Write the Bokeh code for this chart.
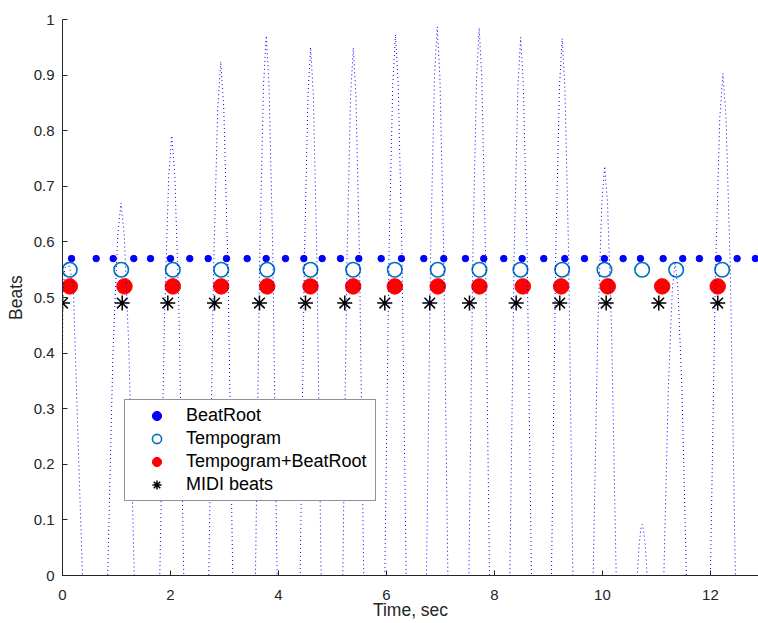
from bokeh.plotting import figure
from bokeh.models import Range1d, FixedTicker, NumeralTickFormatter, Legend, LegendItem
from bokeh.embed import file_html
from bokeh.resources import INLINE

# ---- data ----
# onset/beat-strength curve (time in s, value)
curve_t = [
    0.0, 0.005, 0.04, 0.09, 0.14, 0.20, 0.27, 0.37,
    0.837, 0.935, 1.021, 1.083, 1.145, 1.231, 1.329,
    1.802, 1.891, 1.968, 2.024, 2.080, 2.157, 2.246,
    2.709, 2.798, 2.875, 2.931, 2.987, 3.064, 3.153,
    3.574, 3.654, 3.724, 3.774, 3.824, 3.894, 3.974,
    4.402, 4.480, 4.547, 4.596, 4.645, 4.712, 4.790,
    5.191, 5.269, 5.336, 5.385, 5.434, 5.501, 5.579,
    5.969, 6.048, 6.117, 6.167, 6.217, 6.286, 6.365,
    6.741, 6.820, 6.889, 6.939, 6.989, 7.058, 7.137,
    7.526, 7.602, 7.669, 7.717, 7.765, 7.832, 7.908,
    8.285, 8.365, 8.435, 8.485, 8.535, 8.605, 8.685,
    9.056, 9.135, 9.204, 9.254, 9.304, 9.373, 9.452,
    9.828, 9.913, 9.988, 10.041, 10.094, 10.169, 10.254,
    10.642, 10.679, 10.712, 10.735, 10.758, 10.791, 10.828,
    11.137, 11.221, 11.294, 11.346, 11.398, 11.471, 11.555,
    12.000, 12.092, 12.173, 12.231, 12.289, 12.370, 12.462,
    12.89,
]
curve_y = [
    0.33, 0.50, 0.55, 0.565, 0.55, 0.52, 0.30, 0.0,
    0.0, 0.402, 0.610, 0.670, 0.610, 0.402, 0.0,
    0.0, 0.475, 0.720, 0.791, 0.720, 0.475, 0.0,
    0.0, 0.554, 0.841, 0.924, 0.841, 0.554, 0.0,
    0.0, 0.583, 0.884, 0.971, 0.884, 0.583, 0.0,
    0.0, 0.570, 0.865, 0.950, 0.865, 0.570, 0.0,
    0.0, 0.569, 0.864, 0.949, 0.864, 0.569, 0.0,
    0.0, 0.584, 0.885, 0.973, 0.885, 0.584, 0.0,
    0.0, 0.592, 0.898, 0.987, 0.898, 0.592, 0.0,
    0.0, 0.591, 0.896, 0.985, 0.896, 0.591, 0.0,
    0.0, 0.581, 0.881, 0.968, 0.881, 0.581, 0.0,
    0.0, 0.580, 0.879, 0.966, 0.879, 0.580, 0.0,
    0.0, 0.442, 0.670, 0.736, 0.670, 0.442, 0.0,
    0.0, 0.055, 0.084, 0.092, 0.084, 0.055, 0.0,
    0.0, 0.339, 0.514, 0.565, 0.514, 0.339, 0.0,
    0.0, 0.542, 0.822, 0.903, 0.822, 0.542, 0.0,
    0.0,
]

beatroot_t = [0.167, 0.624, 0.939, 1.320, 1.630, 2.000, 2.357, 2.698, 3.037,
              3.420, 3.772, 4.130, 4.469, 4.809, 5.148, 5.487, 5.902, 6.278,
              6.691, 7.061, 7.463, 7.802, 8.172, 8.513, 8.913, 9.302, 9.667,
              10.037, 10.383, 10.704, 11.124, 11.487, 11.796, 12.143, 12.494,
              12.833]
tempogram_t = [0.135, 1.087, 2.043, 2.939, 3.791, 4.593, 5.383, 6.154, 6.950,
               7.722, 8.481, 9.254, 10.037, 10.735, 11.365, 12.217]
combined_t = [0.135, 1.148, 2.043, 2.939, 3.791, 4.593, 5.383, 6.154, 6.950,
              7.722, 8.524, 9.235, 10.098, 11.106, 12.135]
midi_t = [0.0, 1.106, 1.950, 2.815, 3.648, 4.500, 5.228, 5.969, 6.802, 7.537,
          8.402, 9.209, 10.069, 11.043, 12.135]

beatroot_level = 0.57
tempogram_level = 0.55
combined_level = 0.52
midi_level = 0.49

series_labels = ["BeatRoot", "Tempogram", "Tempogram+BeatRoot", "MIDI beats"]
x_title = "Time, sec"
y_title = "Beats"
x_ticks = [0, 2, 4, 6, 8, 10, 12]
y_ticks = [0, 0.1, 0.2, 0.3, 0.4, 0.5, 0.6, 0.7, 0.8, 0.9, 1]

FONT = "Liberation Sans"
TXT = "#262626"

p = figure(width=758, height=623, output_backend="svg", toolbar_location=None,
           x_range=Range1d(0, 12.89), y_range=Range1d(0, 1),
           min_border_left=62, min_border_right=0, min_border_top=19,
           min_border_bottom=48)
p.outline_line_color = None
p.grid.visible = False
p.background_fill_color = "white"
p.border_fill_color = "white"

p.xaxis.ticker = FixedTicker(ticks=x_ticks)
p.yaxis.ticker = FixedTicker(ticks=y_ticks)
p.yaxis.formatter = NumeralTickFormatter(format="0.[0]")
p.xaxis.axis_label = x_title
p.yaxis.axis_label = y_title

for ax in (p.xaxis[0], p.yaxis[0]):
    ax.major_tick_in = 5
    ax.major_tick_out = 0
    ax.minor_tick_in = 0
    ax.minor_tick_out = 0
    ax.axis_line_color = TXT
    ax.major_tick_line_color = TXT
    ax.major_label_text_font = FONT
    ax.major_label_text_font_size = "15px"
    ax.major_label_text_color = TXT
    ax.axis_label_text_font = FONT
    ax.axis_label_text_font_size = "17.5px"
    ax.axis_label_text_font_style = "normal"
    ax.axis_label_text_color = TXT

p.xaxis[0].major_label_standoff = 14
p.xaxis[0].axis_label_standoff = -3
p.yaxis[0].major_label_standoff = 8
p.yaxis[0].axis_label_standoff = 5

r_br = p.scatter(beatroot_t, [beatroot_level] * len(beatroot_t), marker="circle",
                 size=6.5, fill_color="#0000ff", line_color="#0000ff")
r_tg = p.scatter(tempogram_t, [tempogram_level] * len(tempogram_t), marker="circle",
                 size=14.5, fill_color=None, line_color="#0072bd", line_width=1.6)
r_cb = p.scatter(combined_t, [combined_level] * len(combined_t), marker="circle",
                 size=15.5, fill_color="#ff0000", line_color="#ff0000")
r_md = p.scatter(midi_t, [midi_level] * len(midi_t), marker="asterisk",
                 size=15, line_color="black", line_width=1.5)
p.line(curve_t, curve_y, line_color="#0000ff", line_dash="1 3", line_width=1)

legend = Legend(items=[LegendItem(label=series_labels[0], renderers=[r_br]),
                       LegendItem(label=series_labels[1], renderers=[r_tg]),
                       LegendItem(label=series_labels[2], renderers=[r_cb]),
                       LegendItem(label=series_labels[3], renderers=[r_md])],
                location=(62, 74))
legend.label_text_font = FONT
legend.label_text_font_size = "18px"
legend.label_text_color = "black"
legend.glyph_width = 55
legend.glyph_height = 23
legend.label_height = 23
legend.label_width = 185
legend.label_standoff = 2
legend.spacing = 0
legend.padding = 4
legend.margin = 0
legend.border_line_color = TXT
legend.border_line_width = 1
legend.background_fill_alpha = 1
p.add_layout(legend)

open("out.html", "w").write(file_html(p, INLINE))
